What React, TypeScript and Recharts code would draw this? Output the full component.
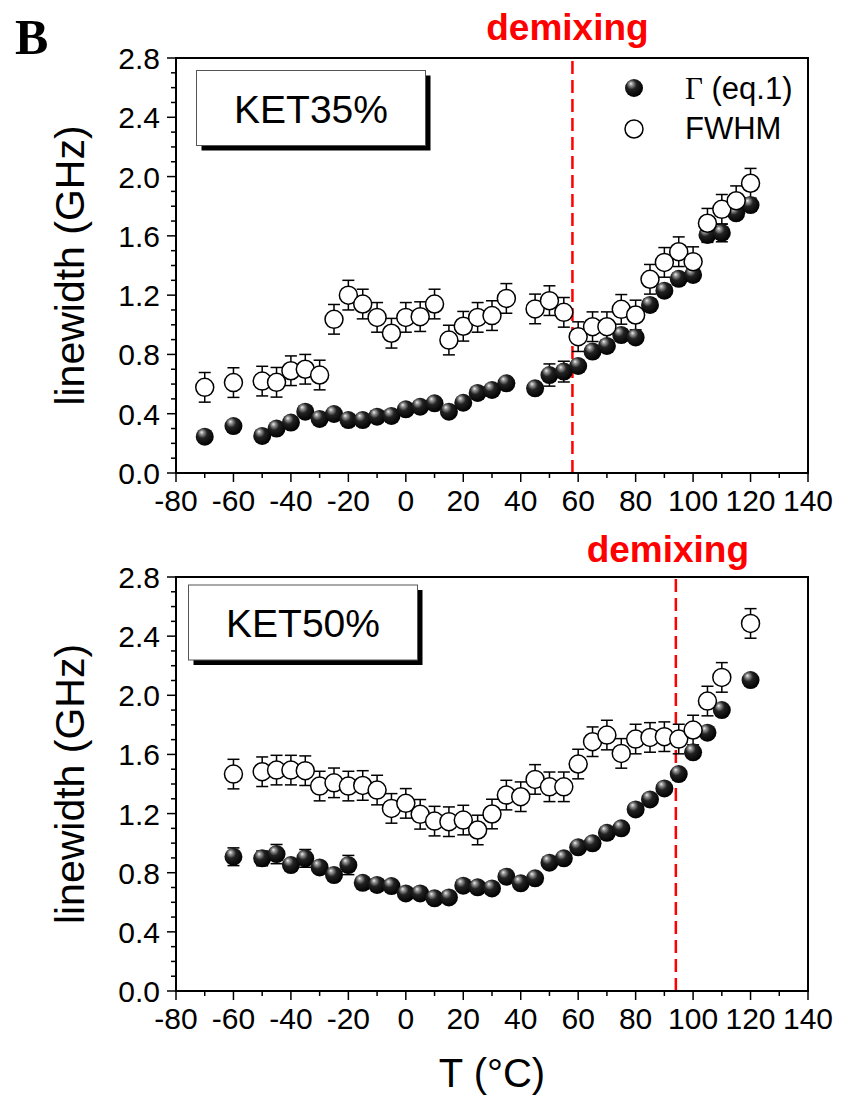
import React from 'react';
import { ScatterChart, Scatter, XAxis, YAxis, ErrorBar, ReferenceLine, ReferenceArea } from 'recharts';

// axis ticks
const xTicks = [-80, -70, -60, -50, -40, -30, -20, -10, 0, 10, 20, 30, 40, 50, 60, 70, 80, 90, 100, 110, 120, 130, 140];
const yTicks = [0, 0.1, 0.2, 0.3, 0.4, 0.5, 0.6, 0.7, 0.8, 0.9, 1.0, 1.1, 1.2, 1.3, 1.4, 1.5, 1.6, 1.7, 1.8, 1.9, 2.0, 2.1, 2.2, 2.3, 2.4, 2.5, 2.6, 2.7, 2.8];

// KET35% panel
const topTemps = [-70, -60, -50, -45, -40, -35, -30, -25, -20, -15, -10, -5, 0, 5, 10, 15, 20, 25, 30, 35, 45, 50, 55, 60, 65, 70, 75, 80, 85, 90, 95, 100, 105, 110, 115, 120];
const topGamma = [0.245, 0.317, 0.25, 0.30, 0.34, 0.414, 0.365, 0.398, 0.357, 0.357, 0.38, 0.385, 0.43, 0.447, 0.47, 0.414, 0.474, 0.54, 0.56, 0.605, 0.571, 0.661, 0.684, 0.722, 0.819, 0.857, 0.931, 0.915, 1.134, 1.23, 1.31, 1.336, 1.606, 1.62, 1.752, 1.808];
const topGammaErr = [0.03, 0.03, 0.03, 0.03, 0.03, 0.03, 0.03, 0.03, 0.03, 0.03, 0.03, 0.03, 0.03, 0.03, 0.03, 0.03, 0.03, 0.03, 0.03, 0.03, 0.03, 0.075, 0.07, 0.04, 0.04, 0.04, 0.04, 0.04, 0.04, 0.04, 0.04, 0.04, 0.05, 0.06, 0.04, 0.04];
const topFwhm = [0.578, 0.61, 0.62, 0.612, 0.69, 0.70, 0.661, 1.037, 1.20, 1.14, 1.05, 0.943, 1.05, 1.055, 1.14, 0.897, 0.99, 1.05, 1.062, 1.178, 1.107, 1.163, 1.084, 0.92, 0.987, 0.987, 1.104, 1.066, 1.307, 1.421, 1.493, 1.426, 1.685, 1.779, 1.837, 1.955];
const topFwhmErr = [0.1, 0.1, 0.1, 0.1, 0.1, 0.1, 0.1, 0.1, 0.1, 0.1, 0.1, 0.1, 0.1, 0.1, 0.1, 0.1, 0.1, 0.1, 0.1, 0.1, 0.1, 0.1, 0.1, 0.1, 0.1, 0.1, 0.1, 0.1, 0.1, 0.1, 0.1, 0.1, 0.1, 0.1, 0.1, 0.1];
const topDemix = 58;

// KET50% panel
const botTemps = [-60, -50, -45, -40, -35, -30, -25, -20, -15, -10, -5, 0, 5, 10, 15, 20, 25, 30, 35, 40, 45, 50, 55, 60, 65, 70, 75, 80, 85, 90, 95, 100, 105, 110, 120];
const botGamma = [0.908, 0.897, 0.926, 0.852, 0.897, 0.836, 0.784, 0.852, 0.732, 0.717, 0.71, 0.66, 0.66, 0.627, 0.633, 0.712, 0.701, 0.694, 0.773, 0.728, 0.762, 0.868, 0.897, 0.972, 0.999, 1.07, 1.1, 1.228, 1.296, 1.37, 1.467, 1.614, 1.747, 1.9, 2.103];
const botGammaErr = [0.06, 0.05, 0.065, 0.03, 0.06, 0.03, 0.03, 0.065, 0.03, 0.03, 0.03, 0.03, 0.03, 0.03, 0.03, 0.03, 0.03, 0.03, 0.03, 0.03, 0.03, 0.03, 0.03, 0.03, 0.03, 0.03, 0.03, 0.03, 0.03, 0.03, 0.03, 0.03, 0.03, 0.03, 0.03];
const botFwhm = [1.467, 1.483, 1.494, 1.494, 1.49, 1.386, 1.408, 1.386, 1.39, 1.359, 1.235, 1.269, 1.195, 1.149, 1.145, 1.156, 1.089, 1.197, 1.325, 1.314, 1.431, 1.381, 1.381, 1.535, 1.686, 1.731, 1.607, 1.704, 1.715, 1.72, 1.704, 1.765, 1.961, 2.121, 2.486];
const botFwhmErr = [0.1, 0.1, 0.1, 0.1, 0.1, 0.1, 0.1, 0.1, 0.1, 0.1, 0.1, 0.1, 0.1, 0.1, 0.1, 0.1, 0.1, 0.1, 0.1, 0.1, 0.1, 0.1, 0.1, 0.1, 0.1, 0.1, 0.1, 0.1, 0.1, 0.1, 0.1, 0.1, 0.1, 0.1, 0.1];
const botDemix = 94;

const FONT = '"Liberation Sans", Arial, Helvetica, sans-serif';

const XTick = (props: any) => {
  const { x, y, payload } = props;
  const v = payload.value;
  const major = v % 20 === 0;
  return (
    <g>
      <line x1={x} x2={x} y1={y} y2={y + (major ? 9 : 5)} stroke="#000" strokeWidth={1.5} />
      {major && (
        <text x={x} y={y + 38} textAnchor="middle" fontSize={30} fill="#000" fontFamily={FONT}>
          {v}
        </text>
      )}
    </g>
  );
};

const YTick = (props: any) => {
  const { x, y, payload } = props;
  const v = payload.value;
  const major = Math.round(v * 10) % 4 === 0;
  return (
    <g>
      <line x1={x} x2={x - (major ? 9 : 5)} y1={y} y2={y} stroke="#000" strokeWidth={1.5} />
      {major && (
        <text x={x - 16} y={y + 11} textAnchor="end" fontSize={30} fill="#000" fontFamily={FONT}>
          {v.toFixed(1)}
        </text>
      )}
    </g>
  );
};

const Sphere = (props: any) => {
  const { cx, cy } = props;
  if (cx == null || cy == null) return null;
  return <circle cx={cx} cy={cy} r={9} fill="url(#sphereGrad)" />;
};

const OpenDot = (props: any) => {
  const { cx, cy } = props;
  if (cx == null || cy == null) return null;
  return <circle cx={cx} cy={cy} r={9} fill="#fff" stroke="#000" strokeWidth={1.5} />;
};

function build(temps: number[], vals: number[], errs: number[]) {
  return temps.map((t, i) => ({ t, v: vals[i], e: errs[i] }));
}

function Panel(props: any) {
  const { temps, gamma, gammaErr, fwhm, fwhmErr, demix, dx, dy, height, top, xHeight, xLabel } = props;
  const gData = build(temps, gamma, gammaErr);
  const fData = build(temps, fwhm, fwhmErr);
  return (
    <ScatterChart width={841} height={height} margin={{ top, right: 33, bottom: 0, left: 76 }}>
      <ReferenceArea x1={-80} x2={140} y1={0} y2={2.8} fill="none" stroke="#000" strokeWidth={2} />
      <XAxis
        type="number"
        dataKey="t"
        domain={[-80, 140]}
        ticks={xTicks}
        interval={0}
        tick={<XTick />}
        tickLine={false}
        tickSize={0}
        tickMargin={0}
        height={xHeight}
        axisLine={{ stroke: '#000', strokeWidth: 2 }}
        label={xLabel ? { value: 'T (°C)', position: 'insideBottom', offset: 12, fontSize: 40, fill: '#000', fontFamily: FONT } : undefined}
      />
      <YAxis
        type="number"
        dataKey="v"
        domain={[0, 2.8]}
        ticks={yTicks}
        interval={0}
        tick={<YTick />}
        tickLine={false}
        tickSize={0}
        tickMargin={0}
        width={100}
        axisLine={{ stroke: '#000', strokeWidth: 2 }}
        label={{ value: 'linewidth (GHz)', angle: -90, position: 'insideLeft', offset: -7, fontSize: 41, fill: '#000', fontFamily: FONT, style: { textAnchor: 'middle' } }}
      />
      <ReferenceLine
        x={demix}
        stroke="#ff0000"
        strokeWidth={2.5}
        strokeDasharray="13 6"
        label={(p: any) => {
          const vb = p.viewBox || {};
          return (
            <text x={(vb.x ?? 0) + dx} y={(vb.y ?? 0) + dy} textAnchor="middle" fill="#ff0000" fontSize={37} fontWeight="bold" fontFamily={FONT}>
              demixing
            </text>
          );
        }}
      />
      <Scatter data={gData} shape={Sphere} isAnimationActive={false}>
        <ErrorBar dataKey="e" direction="y" width={6} stroke="#000" strokeWidth={1.5} />
      </Scatter>
      <Scatter data={fData} shape={OpenDot} isAnimationActive={false}>
        <ErrorBar dataKey="e" direction="y" width={6} stroke="#000" strokeWidth={1.5} />
      </Scatter>
    </ScatterChart>
  );
}

export default function App() {
  return (
    <div style={{ position: 'absolute', left: 0, top: 0, width: 841, height: 1099, background: '#fff', fontFamily: FONT }}>
      <div style={{ position: 'absolute', left: 0, top: 0 }}>
        <Panel temps={topTemps} gamma={topGamma} gammaErr={topGammaErr} fwhm={topFwhm} fwhmErr={topFwhmErr}
          demix={topDemix} dx={-5} dy={-18} height={520} top={58} xHeight={47} xLabel={false} />
      </div>
      <div style={{ position: 'absolute', left: 0, top: 520 }}>
        <Panel temps={botTemps} gamma={botGamma} gammaErr={botGammaErr} fwhm={botFwhm} fwhmErr={botFwhmErr}
          demix={botDemix} dx={-8} dy={-15} height={579} top={57} xHeight={108} xLabel={true} />
      </div>
      <svg width={841} height={1099} style={{ position: 'absolute', left: 0, top: 0, pointerEvents: 'none' }}>
        <defs>
          <radialGradient id="sphereGrad" cx="0.42" cy="0.38" r="0.62" fx="0.32" fy="0.25">
            <stop offset="0" stopColor="#f2f2f2" />
            <stop offset="0.16" stopColor="#999" />
            <stop offset="0.45" stopColor="#222" />
            <stop offset="1" stopColor="#000" />
          </radialGradient>
        </defs>
        <text x={15} y={54} fontFamily='"Liberation Serif", "Times New Roman", serif' fontWeight="bold" fontSize={50} fill="#000">B</text>

        <rect x={201.5} y={75.5} width={229} height={75} fill="#000" />
        <rect x={196.5} y={70.5} width={229} height={75} fill="#fff" stroke="#555" strokeWidth={1} />
        <text x={311} y={123} textAnchor="middle" fontSize={39} fill="#000" fontFamily={FONT}>KET35%</text>

        <rect x={193.5} y={590} width={229} height={75} fill="#000" />
        <rect x={188.5} y={585} width={229} height={75} fill="#fff" stroke="#555" strokeWidth={1} />
        <text x={303} y={637} textAnchor="middle" fontSize={39} fill="#000" fontFamily={FONT}>KET50%</text>

        <circle cx={634} cy={88} r={9} fill="url(#sphereGrad)" />
        <text x={685} y={99} fontSize={31} fill="#000" fontFamily={FONT}>
          <tspan fontFamily='"Liberation Serif", "Times New Roman", serif'>Γ</tspan> (eq.1)
        </text>
        <circle cx={634} cy={129} r={9} fill="#fff" stroke="#000" strokeWidth={1.5} />
        <text x={685} y={139} fontSize={31} fill="#000" fontFamily={FONT}>FWHM</text>
      </svg>
    </div>
  );
}
